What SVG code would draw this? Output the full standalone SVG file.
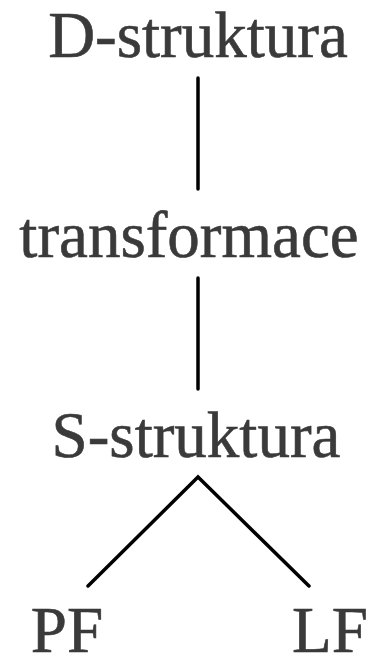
<svg xmlns="http://www.w3.org/2000/svg" width="371" height="658" viewBox="0 0 371 658">
<style>
text{font-family:"Liberation Serif","Times New Roman",serif;font-size:65px;fill:#3a3a3a;stroke:#3a3a3a;stroke-width:0.6;text-anchor:middle}
.c{stroke:#000;stroke-width:3.5;fill:none;stroke-linecap:round;stroke-linejoin:miter}
</style>
<rect width="371" height="658" fill="#fff"/>
<g id="connectors">
<line class="c" x1="198" y1="78" x2="198" y2="189"/>
<line class="c" x1="198" y1="278" x2="198" y2="389"/>
<polyline class="c" points="88,586 198,477 309,586"/>
</g>
<g id="d-struktura"><text x="198" y="57">D-struktura</text></g>
<g id="transformace"><text x="189" y="257">transformace</text></g>
<g id="s-struktura"><text x="196" y="457">S-struktura</text></g>
<g id="pf"><text x="67" y="652">PF</text></g>
<g id="lf"><text x="330" y="652">LF</text></g>
</svg>
